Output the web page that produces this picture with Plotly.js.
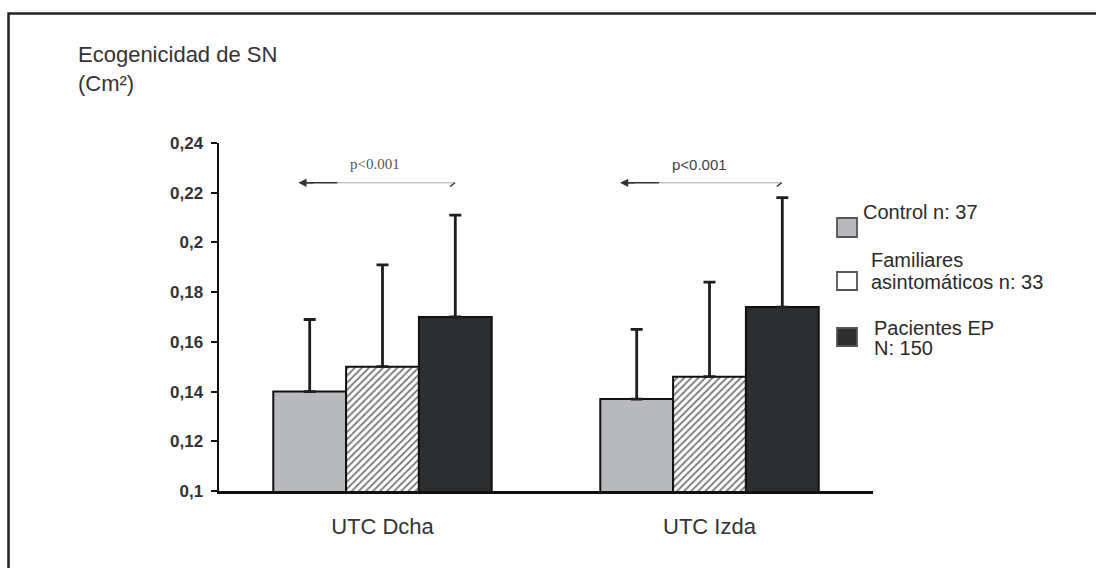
<!DOCTYPE html>
<html>
<head>
<meta charset="utf-8">
<script src="https://cdn.plot.ly/plotly-3.0.1.min.js"></script>
<style>
html,body{margin:0;padding:0;background:#fff;}
#chart{width:1096px;height:568px;}
</style>
</head>
<body>
<div id="chart"></div>
<script>
// ---- data ----
const categories = ['UTC Dcha', 'UTC Izda'];
const seriesNames = ['Control n: 37', 'Familiares\nasintomáticos n: 33', 'Pacientes EP\nN: 150'];
const controlMean = [0.140, 0.137];
const controlSD   = [0.029, 0.028];
const familiaresMean = [0.150, 0.146];
const familiaresSD   = [0.041, 0.038];
const pacientesMean = [0.170, 0.174];
const pacientesSD   = [0.041, 0.044];
const yTickVals = [0.1, 0.12, 0.14, 0.16, 0.18, 0.2, 0.22, 0.24];
const yTickText = ['0,1', '0,12', '0,14', '0,16', '0,18', '0,2', '0,22', '0,24'];
const pLabels = ['p<0.001', 'p<0.001'];
const yTitle = 'Ecogenicidad de SN<br>(Cm²)';

// ---- styles ----
const fills = ['#b8b9bc', '#ffffff', '#2d2e30'];
const W = 1096, H = 568;
const M = {l: 219, r: 223, t: 143, b: 77};
const PW = W - M.l - M.r, PH = H - M.t - M.b;
const px = x => (x - M.l) / PW;          // pixel -> paper x
const py = y => (H - M.b - y) / PH;      // pixel -> paper y
const SANS = 'Liberation Sans, Arial, sans-serif';

function errBar(sd) {
  return {type: 'data', symmetric: false, array: sd, arrayminus: sd.map(() => 0),
          color: '#1e1e1e', thickness: 2.8, width: 6, visible: true};
}
const line = {color: '#111', width: 2};
const traces = [
  {type: 'bar', x: categories, y: controlMean, name: seriesNames[0],
   marker: {color: fills[0], line: line}, error_y: errBar(controlSD)},
  {type: 'bar', x: categories, y: familiaresMean, name: seriesNames[1],
   marker: {color: '#ffffff', line: line,
            pattern: {shape: '/', size: 5, solidity: 0.36, fgcolor: '#7a7a7a', bgcolor: '#ffffff'}},
   error_y: errBar(familiaresSD)},
  {type: 'bar', x: categories, y: pacientesMean, name: seriesNames[2],
   marker: {color: fills[2], line: line}, error_y: errBar(pacientesSD)}
];

const shapes = [];
const annotations = [];

// outer frame
shapes.push({type: 'rect', xref: 'paper', yref: 'paper',
  x0: px(8.5), x1: px(1110), y0: py(580), y1: py(13.5),
  line: {color: '#222', width: 2.5}, fillcolor: 'rgba(0,0,0,0)'});

// y-axis title (two lines, one text)
annotations.push({xref: 'paper', yref: 'paper', x: px(76), y: py(69), xanchor: 'left', yanchor: 'middle',
  text: yTitle, showarrow: false, align: 'left',
  font: {family: SANS, size: 22, color: '#333'}});

// significance arrows (x in category units)
const arrowY = 0.224;
const arrowSpans = [[-0.2575, 0.2217], [0.7263, 1.2208]];
const pFonts = [
  {family: 'Liberation Serif, Times New Roman, serif', size: 15, color: '#555'},
  {family: SANS, size: 15, color: '#444'}
];
arrowSpans.forEach((s, i) => {
  const [a, b] = s;
  const split = a + 0.12;
  shapes.push({type: 'line', xref: 'x', yref: 'y', x0: a + 0.01, x1: split, y0: arrowY, y1: arrowY,
    line: {color: '#333', width: 1.5}});
  shapes.push({type: 'line', xref: 'x', yref: 'y', x0: split, x1: b, y0: arrowY, y1: arrowY,
    line: {color: '#c4c4c4', width: 1.5}});
  shapes.push({type: 'line', xref: 'x', yref: 'y', x0: b, x1: b - 0.015, y0: arrowY, y1: arrowY - 0.0015,
    line: {color: '#333', width: 1.5}});
  annotations.push({xref: 'x', yref: 'y', axref: 'x', ayref: 'y', x: a, y: arrowY, ax: a + 0.05, ay: arrowY,
    showarrow: true, arrowhead: 2, arrowsize: 1.1, arrowwidth: 1.5, arrowcolor: '#333', text: ''});
  annotations.push({xref: 'x', yref: 'y', x: (a + b) / 2 - 0.005, y: 0.2315, text: pLabels[i],
    showarrow: false, font: pFonts[i], xanchor: 'center', yanchor: 'middle'});
});

// manual legend
const legendRows = [
  {sq: [218, 237], lines: [212]},
  {sq: [272, 290], lines: [260, 282]},
  {sq: [328, 346], lines: [328, 348]}
];
const legendTextX = [861, 869, 872];
legendRows.forEach((r, i) => {
  shapes.push({type: 'rect', xref: 'paper', yref: 'paper', x0: px(837), x1: px(857),
    y0: py(r.sq[1]), y1: py(r.sq[0]), fillcolor: fills[i], line: {color: '#555', width: 1.8}});
  const parts = seriesNames[i].split('\n');
  parts.forEach((t, k) => {
    annotations.push({xref: 'paper', yref: 'paper', x: px(legendTextX[i]), y: py(r.lines[k]),
      xanchor: 'left', yanchor: 'middle', text: t, showarrow: false,
      font: {family: SANS, size: 20, color: '#2a2a2a'}});
  });
});

const layout = {
  width: W, height: H,
  margin: M,
  paper_bgcolor: '#fff', plot_bgcolor: '#fff',
  showlegend: false,
  barmode: 'group',
  bargap: 0.332, bargroupgap: 0,
  xaxis: {type: 'category', range: [-0.5, 1.5], showline: true, linecolor: '#111', linewidth: 2.5,
    ticks: '', showgrid: false, zeroline: false, ticklabelstandoff: 14,
    tickfont: {family: SANS, size: 22, color: '#333'}},
  yaxis: {range: [0.1, 0.24], showline: true, linecolor: '#111', linewidth: 2.5,
    ticks: 'outside', ticklen: 6, tickwidth: 2, tickcolor: '#111', ticklabelstandoff: 4,
    tickvals: yTickVals, ticktext: yTickText, showgrid: false, zeroline: false,
    tickfont: {family: SANS, size: 17, color: '#333', weight: 'bold'}},
  shapes: shapes,
  annotations: annotations
};

Plotly.newPlot('chart', traces, layout, {staticPlot: true, displayModeBar: false});
</script>
</body>
</html>
